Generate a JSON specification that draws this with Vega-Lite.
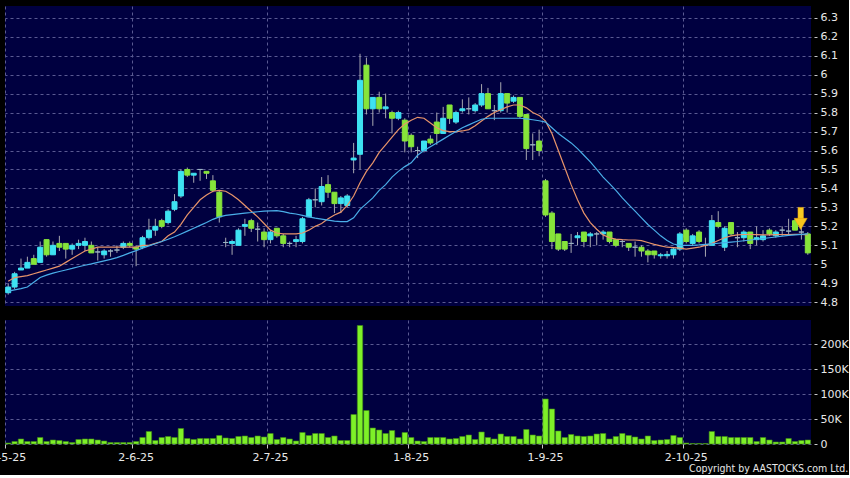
{
  "$schema": "https://vega.github.io/schema/vega-lite/v6.json",
  "background": "black",
  "padding": {"left": -11, "top": 6, "right": 0, "bottom": 0},
  "spacing": 12,
  "title": {"text": "Copyright by AASTOCKS.com Ltd.", "orient": "bottom", "anchor": "end", "fontSize": 10.5, "fontWeight": "normal", "font": "DejaVu Sans Condensed, DejaVu Sans", "color": "#e8e8e8", "offset": 2},
  "datasets": {
    "px": [
      {"d":"2025-05-02","o":4.85,"h":4.90,"l":4.84,"c":4.88,"v":2000,"ma10":4.91,"ma20":4.858},
      {"d":"2025-05-06","o":4.88,"h":4.96,"l":4.87,"c":4.95,"v":5000,"ma10":4.93,"ma20":4.865},
      {"d":"2025-05-07","o":4.97,"h":5.03,"l":4.97,"c":4.98,"v":10000,"ma10":4.935,"ma20":4.872},
      {"d":"2025-05-08","o":4.98,"h":5.04,"l":4.98,"c":5.01,"v":5000,"ma10":4.94,"ma20":4.88},
      {"d":"2025-05-09","o":5.03,"h":5.05,"l":5.00,"c":5.00,"v":5000,"ma10":4.95,"ma20":4.905},
      {"d":"2025-05-12","o":5.01,"h":5.12,"l":5.01,"c":5.09,"v":13000,"ma10":4.96,"ma20":4.93},
      {"d":"2025-05-13","o":5.13,"h":5.13,"l":5.04,"c":5.05,"v":5000,"ma10":4.97,"ma20":4.943},
      {"d":"2025-05-14","o":5.05,"h":5.12,"l":5.05,"c":5.10,"v":8000,"ma10":4.98,"ma20":4.953},
      {"d":"2025-05-15","o":5.11,"h":5.15,"l":5.07,"c":5.09,"v":7000,"ma10":4.99,"ma20":4.962},
      {"d":"2025-05-16","o":5.11,"h":5.11,"l":5.03,"c":5.08,"v":5000,"ma10":5.01,"ma20":4.97},
      {"d":"2025-05-19","o":5.08,"h":5.11,"l":5.05,"c":5.10,"v":3000,"ma10":5.03,"ma20":4.978},
      {"d":"2025-05-20","o":5.10,"h":5.13,"l":5.08,"c":5.11,"v":9000,"ma10":5.05,"ma20":4.987},
      {"d":"2025-05-21","o":5.10,"h":5.14,"l":5.07,"c":5.12,"v":10000,"ma10":5.07,"ma20":4.995},
      {"d":"2025-05-22","o":5.10,"h":5.12,"l":5.06,"c":5.06,"v":10000,"ma10":5.08,"ma20":5.002},
      {"d":"2025-05-23","o":5.065,"h":5.09,"l":5.02,"c":5.065,"v":8000,"ma10":5.09,"ma20":5.01},
      {"d":"2025-05-26","o":5.05,"h":5.08,"l":5.03,"c":5.07,"v":6000,"ma10":5.09,"ma20":5.018},
      {"d":"2025-05-27","o":5.07,"h":5.08,"l":5.04,"c":5.07,"v":3000,"ma10":5.09,"ma20":5.026},
      {"d":"2025-05-28","o":5.075,"h":5.10,"l":5.06,"c":5.075,"v":3000,"ma10":5.09,"ma20":5.035},
      {"d":"2025-05-29","o":5.09,"h":5.12,"l":5.08,"c":5.11,"v":3000,"ma10":5.09,"ma20":5.047},
      {"d":"2025-05-30","o":5.11,"h":5.12,"l":5.09,"c":5.10,"v":3000,"ma10":5.09,"ma20":5.06},
      {"d":"2025-06-02","o":5.09,"h":5.10,"l":4.99,"c":5.08,"v":5000,"ma10":5.09,"ma20":5.072},
      {"d":"2025-06-03","o":5.09,"h":5.15,"l":5.08,"c":5.14,"v":13000,"ma10":5.10,"ma20":5.085},
      {"d":"2025-06-04","o":5.14,"h":5.24,"l":5.13,"c":5.18,"v":25000,"ma10":5.10,"ma20":5.097},
      {"d":"2025-06-05","o":5.18,"h":5.24,"l":5.15,"c":5.20,"v":7000,"ma10":5.11,"ma20":5.108},
      {"d":"2025-06-06","o":5.23,"h":5.24,"l":5.19,"c":5.20,"v":13000,"ma10":5.12,"ma20":5.12},
      {"d":"2025-06-09","o":5.22,"h":5.29,"l":5.21,"c":5.28,"v":15000,"ma10":5.15,"ma20":5.132},
      {"d":"2025-06-10","o":5.29,"h":5.37,"l":5.28,"c":5.33,"v":13000,"ma10":5.17,"ma20":5.145},
      {"d":"2025-06-11","o":5.36,"h":5.50,"l":5.35,"c":5.49,"v":31000,"ma10":5.21,"ma20":5.16},
      {"d":"2025-06-12","o":5.50,"h":5.51,"l":5.46,"c":5.47,"v":11000,"ma10":5.26,"ma20":5.175},
      {"d":"2025-06-13","o":5.47,"h":5.48,"l":5.43,"c":5.48,"v":9000,"ma10":5.30,"ma20":5.19},
      {"d":"2025-06-16","o":5.50,"h":5.50,"l":5.44,"c":5.50,"v":11000,"ma10":5.34,"ma20":5.205},
      {"d":"2025-06-17","o":5.49,"h":5.49,"l":5.45,"c":5.48,"v":11000,"ma10":5.365,"ma20":5.22},
      {"d":"2025-06-18","o":5.44,"h":5.47,"l":5.38,"c":5.39,"v":11000,"ma10":5.385,"ma20":5.237},
      {"d":"2025-06-19","o":5.38,"h":5.39,"l":5.22,"c":5.25,"v":17000,"ma10":5.39,"ma20":5.25},
      {"d":"2025-06-20","o":5.115,"h":5.14,"l":5.09,"c":5.115,"v":12000,"ma10":5.385,"ma20":5.258},
      {"d":"2025-06-23","o":5.11,"h":5.13,"l":5.05,"c":5.12,"v":11000,"ma10":5.365,"ma20":5.262},
      {"d":"2025-06-24","o":5.10,"h":5.19,"l":5.10,"c":5.18,"v":15000,"ma10":5.34,"ma20":5.266},
      {"d":"2025-06-25","o":5.20,"h":5.24,"l":5.15,"c":5.21,"v":16000,"ma10":5.31,"ma20":5.27},
      {"d":"2025-06-26","o":5.23,"h":5.24,"l":5.17,"c":5.19,"v":13000,"ma10":5.28,"ma20":5.273},
      {"d":"2025-06-27","o":5.185,"h":5.22,"l":5.12,"c":5.185,"v":16000,"ma10":5.25,"ma20":5.277},
      {"d":"2025-06-30","o":5.17,"h":5.19,"l":5.09,"c":5.13,"v":14000,"ma10":5.215,"ma20":5.28},
      {"d":"2025-07-02","o":5.13,"h":5.18,"l":5.11,"c":5.17,"v":21000,"ma10":5.18,"ma20":5.282},
      {"d":"2025-07-03","o":5.19,"h":5.19,"l":5.14,"c":5.15,"v":9000,"ma10":5.165,"ma20":5.283},
      {"d":"2025-07-04","o":5.15,"h":5.16,"l":5.09,"c":5.11,"v":13000,"ma10":5.16,"ma20":5.278},
      {"d":"2025-07-07","o":5.11,"h":5.12,"l":5.09,"c":5.11,"v":10000,"ma10":5.16,"ma20":5.27},
      {"d":"2025-07-08","o":5.12,"h":5.15,"l":5.09,"c":5.13,"v":6000,"ma10":5.16,"ma20":5.265},
      {"d":"2025-07-09","o":5.12,"h":5.25,"l":5.11,"c":5.24,"v":23000,"ma10":5.165,"ma20":5.258},
      {"d":"2025-07-10","o":5.25,"h":5.35,"l":5.25,"c":5.34,"v":17000,"ma10":5.18,"ma20":5.25},
      {"d":"2025-07-11","o":5.34,"h":5.40,"l":5.30,"c":5.34,"v":21000,"ma10":5.20,"ma20":5.243},
      {"d":"2025-07-14","o":5.33,"h":5.46,"l":5.31,"c":5.41,"v":21000,"ma10":5.215,"ma20":5.238},
      {"d":"2025-07-15","o":5.42,"h":5.47,"l":5.35,"c":5.38,"v":13000,"ma10":5.24,"ma20":5.233},
      {"d":"2025-07-16","o":5.38,"h":5.38,"l":5.27,"c":5.32,"v":16000,"ma10":5.26,"ma20":5.228},
      {"d":"2025-07-17","o":5.32,"h":5.36,"l":5.27,"c":5.35,"v":7000,"ma10":5.275,"ma20":5.225},
      {"d":"2025-07-18","o":5.31,"h":5.37,"l":5.30,"c":5.36,"v":7000,"ma10":5.31,"ma20":5.225},
      {"d":"2025-07-21","o":5.55,"h":5.64,"l":5.48,"c":5.56,"v":59000,"ma10":5.36,"ma20":5.245},
      {"d":"2025-07-22","o":5.58,"h":6.11,"l":5.50,"c":5.97,"v":237000,"ma10":5.43,"ma20":5.29},
      {"d":"2025-07-23","o":6.05,"h":6.09,"l":5.79,"c":5.82,"v":67000,"ma10":5.49,"ma20":5.32},
      {"d":"2025-07-24","o":5.82,"h":5.88,"l":5.73,"c":5.88,"v":32000,"ma10":5.535,"ma20":5.35},
      {"d":"2025-07-25","o":5.88,"h":5.91,"l":5.80,"c":5.82,"v":28000,"ma10":5.59,"ma20":5.39},
      {"d":"2025-07-28","o":5.82,"h":5.90,"l":5.77,"c":5.83,"v":21000,"ma10":5.63,"ma20":5.42},
      {"d":"2025-07-29","o":5.80,"h":5.81,"l":5.69,"c":5.77,"v":27000,"ma10":5.67,"ma20":5.46},
      {"d":"2025-07-30","o":5.77,"h":5.81,"l":5.76,"c":5.80,"v":13000,"ma10":5.71,"ma20":5.49},
      {"d":"2025-07-31","o":5.76,"h":5.77,"l":5.59,"c":5.65,"v":23000,"ma10":5.74,"ma20":5.515},
      {"d":"2025-08-01","o":5.68,"h":5.69,"l":5.59,"c":5.62,"v":13000,"ma10":5.76,"ma20":5.535},
      {"d":"2025-08-04","o":5.60,"h":5.62,"l":5.56,"c":5.60,"v":6000,"ma10":5.775,"ma20":5.575},
      {"d":"2025-08-05","o":5.60,"h":5.65,"l":5.59,"c":5.65,"v":5000,"ma10":5.77,"ma20":5.60},
      {"d":"2025-08-06","o":5.66,"h":5.68,"l":5.63,"c":5.64,"v":13000,"ma10":5.745,"ma20":5.62},
      {"d":"2025-08-07","o":5.75,"h":5.80,"l":5.63,"c":5.69,"v":13000,"ma10":5.72,"ma20":5.64},
      {"d":"2025-08-08","o":5.69,"h":5.83,"l":5.69,"c":5.77,"v":13000,"ma10":5.705,"ma20":5.66},
      {"d":"2025-08-11","o":5.84,"h":5.84,"l":5.74,"c":5.77,"v":10000,"ma10":5.70,"ma20":5.68},
      {"d":"2025-08-12","o":5.75,"h":5.81,"l":5.74,"c":5.80,"v":11000,"ma10":5.70,"ma20":5.70},
      {"d":"2025-08-13","o":5.81,"h":5.87,"l":5.80,"c":5.82,"v":15000,"ma10":5.703,"ma20":5.72},
      {"d":"2025-08-14","o":5.82,"h":5.88,"l":5.79,"c":5.82,"v":18000,"ma10":5.71,"ma20":5.735},
      {"d":"2025-08-15","o":5.81,"h":5.85,"l":5.80,"c":5.84,"v":9000,"ma10":5.73,"ma20":5.75},
      {"d":"2025-08-18","o":5.84,"h":5.95,"l":5.83,"c":5.90,"v":24000,"ma10":5.755,"ma20":5.765},
      {"d":"2025-08-19","o":5.90,"h":5.93,"l":5.82,"c":5.82,"v":13000,"ma10":5.78,"ma20":5.77},
      {"d":"2025-08-20","o":5.81,"h":5.84,"l":5.76,"c":5.81,"v":10000,"ma10":5.80,"ma20":5.77},
      {"d":"2025-08-21","o":5.81,"h":5.96,"l":5.80,"c":5.90,"v":20000,"ma10":5.815,"ma20":5.77},
      {"d":"2025-08-22","o":5.90,"h":5.90,"l":5.80,"c":5.85,"v":15000,"ma10":5.83,"ma20":5.77},
      {"d":"2025-08-25","o":5.86,"h":5.89,"l":5.85,"c":5.88,"v":15000,"ma10":5.84,"ma20":5.77},
      {"d":"2025-08-26","o":5.88,"h":5.88,"l":5.77,"c":5.78,"v":10000,"ma10":5.84,"ma20":5.77},
      {"d":"2025-08-27","o":5.79,"h":5.79,"l":5.55,"c":5.61,"v":29000,"ma10":5.825,"ma20":5.767},
      {"d":"2025-08-28","o":5.63,"h":5.69,"l":5.55,"c":5.63,"v":18000,"ma10":5.80,"ma20":5.762},
      {"d":"2025-08-29","o":5.65,"h":5.71,"l":5.57,"c":5.60,"v":16000,"ma10":5.785,"ma20":5.757},
      {"d":"2025-09-01","o":5.44,"h":5.45,"l":5.25,"c":5.26,"v":90000,"ma10":5.755,"ma20":5.75},
      {"d":"2025-09-02","o":5.27,"h":5.28,"l":5.08,"c":5.12,"v":70000,"ma10":5.69,"ma20":5.72},
      {"d":"2025-09-03","o":5.16,"h":5.16,"l":5.07,"c":5.08,"v":26000,"ma10":5.60,"ma20":5.69},
      {"d":"2025-09-04","o":5.12,"h":5.12,"l":5.07,"c":5.08,"v":13000,"ma10":5.51,"ma20":5.665},
      {"d":"2025-09-05","o":5.11,"h":5.16,"l":5.06,"c":5.11,"v":19000,"ma10":5.42,"ma20":5.64},
      {"d":"2025-09-08","o":5.14,"h":5.17,"l":5.10,"c":5.15,"v":16000,"ma10":5.34,"ma20":5.61},
      {"d":"2025-09-09","o":5.17,"h":5.17,"l":5.09,"c":5.12,"v":15000,"ma10":5.27,"ma20":5.575},
      {"d":"2025-09-10","o":5.15,"h":5.17,"l":5.09,"c":5.16,"v":16000,"ma10":5.22,"ma20":5.54},
      {"d":"2025-09-11","o":5.16,"h":5.17,"l":5.10,"c":5.16,"v":20000,"ma10":5.185,"ma20":5.50},
      {"d":"2025-09-12","o":5.16,"h":5.18,"l":5.13,"c":5.17,"v":21000,"ma10":5.155,"ma20":5.46},
      {"d":"2025-09-15","o":5.17,"h":5.17,"l":5.11,"c":5.12,"v":10000,"ma10":5.14,"ma20":5.425},
      {"d":"2025-09-16","o":5.13,"h":5.13,"l":5.09,"c":5.10,"v":15000,"ma10":5.133,"ma20":5.39},
      {"d":"2025-09-17","o":5.12,"h":5.13,"l":5.09,"c":5.12,"v":21000,"ma10":5.13,"ma20":5.35},
      {"d":"2025-09-18","o":5.11,"h":5.11,"l":5.07,"c":5.09,"v":17000,"ma10":5.128,"ma20":5.315},
      {"d":"2025-09-19","o":5.09,"h":5.12,"l":5.04,"c":5.09,"v":14000,"ma10":5.128,"ma20":5.28},
      {"d":"2025-09-22","o":5.09,"h":5.10,"l":5.04,"c":5.07,"v":10000,"ma10":5.125,"ma20":5.245},
      {"d":"2025-09-23","o":5.07,"h":5.08,"l":5.01,"c":5.05,"v":16000,"ma10":5.115,"ma20":5.21},
      {"d":"2025-09-24","o":5.07,"h":5.07,"l":5.03,"c":5.05,"v":7000,"ma10":5.105,"ma20":5.18},
      {"d":"2025-09-25","o":5.045,"h":5.06,"l":5.03,"c":5.05,"v":8000,"ma10":5.097,"ma20":5.15},
      {"d":"2025-09-26","o":5.045,"h":5.07,"l":5.03,"c":5.052,"v":9000,"ma10":5.09,"ma20":5.125},
      {"d":"2025-09-29","o":5.05,"h":5.09,"l":5.03,"c":5.08,"v":17000,"ma10":5.088,"ma20":5.107},
      {"d":"2025-09-30","o":5.08,"h":5.17,"l":5.07,"c":5.16,"v":13000,"ma10":5.085,"ma20":5.10},
      {"d":"2025-10-02","o":5.18,"h":5.19,"l":5.11,"c":5.12,"v":2000,"ma10":5.08,"ma20":5.10},
      {"d":"2025-10-03","o":5.11,"h":5.16,"l":5.10,"c":5.15,"v":1000,"ma10":5.085,"ma20":5.10},
      {"d":"2025-10-06","o":5.17,"h":5.18,"l":5.11,"c":5.12,"v":1000,"ma10":5.09,"ma20":5.102},
      {"d":"2025-10-08","o":5.10,"h":5.14,"l":5.04,"c":5.10,"v":1000,"ma10":5.10,"ma20":5.105},
      {"d":"2025-10-09","o":5.10,"h":5.26,"l":5.10,"c":5.23,"v":25000,"ma10":5.11,"ma20":5.108},
      {"d":"2025-10-10","o":5.22,"h":5.28,"l":5.19,"c":5.20,"v":15000,"ma10":5.125,"ma20":5.111},
      {"d":"2025-10-13","o":5.09,"h":5.20,"l":5.07,"c":5.19,"v":15000,"ma10":5.14,"ma20":5.114},
      {"d":"2025-10-14","o":5.22,"h":5.22,"l":5.15,"c":5.16,"v":13000,"ma10":5.15,"ma20":5.117},
      {"d":"2025-10-15","o":5.14,"h":5.17,"l":5.09,"c":5.14,"v":13000,"ma10":5.155,"ma20":5.12},
      {"d":"2025-10-16","o":5.14,"h":5.18,"l":5.12,"c":5.17,"v":13000,"ma10":5.157,"ma20":5.124},
      {"d":"2025-10-17","o":5.17,"h":5.17,"l":5.08,"c":5.11,"v":13000,"ma10":5.157,"ma20":5.128},
      {"d":"2025-10-20","o":5.13,"h":5.20,"l":5.10,"c":5.14,"v":5000,"ma10":5.156,"ma20":5.132},
      {"d":"2025-10-21","o":5.13,"h":5.18,"l":5.12,"c":5.15,"v":13000,"ma10":5.155,"ma20":5.136},
      {"d":"2025-10-22","o":5.18,"h":5.19,"l":5.15,"c":5.16,"v":8000,"ma10":5.155,"ma20":5.14},
      {"d":"2025-10-23","o":5.15,"h":5.18,"l":5.14,"c":5.17,"v":4000,"ma10":5.156,"ma20":5.144},
      {"d":"2025-10-24","o":5.18,"h":5.20,"l":5.15,"c":5.18,"v":4000,"ma10":5.157,"ma20":5.148},
      {"d":"2025-10-27","o":5.175,"h":5.24,"l":5.15,"c":5.175,"v":11000,"ma10":5.157,"ma20":5.152},
      {"d":"2025-10-28","o":5.23,"h":5.24,"l":5.18,"c":5.18,"v":5000,"ma10":5.158,"ma20":5.155},
      {"d":"2025-10-30","o":5.17,"h":5.20,"l":5.13,"c":5.17,"v":7000,"ma10":5.158,"ma20":5.158},
      {"d":"2025-10-31","o":5.16,"h":5.17,"l":5.05,"c":5.06,"v":8000,"ma10":5.155,"ma20":5.16}
    ],
    "arrow": [
      {"d":"2025-10-30","top":5.30,"bot":5.235,"tip":5.2125}
    ]
  },
  "config": {
    "view": {"fill": "#000040", "stroke": null},
    "axis": {
      "labelColor": "#e8e8e8",
      "labelFont": "DejaVu Sans",
      "labelFontSize": 11,
      "labelOverlap": false,
      "tickColor": "#c8c8c8",
      "gridColor": "#5a5a92",
      "gridDash": [3, 3],
      "gridWidth": 1,
      "domain": false,
      "title": null
    }
  },
  "vconcat": [
    {
      "width": 806,
      "height": 300,
      "data": {"name": "px"},
      "encoding": {
        "x": {
          "field": "d", "type": "ordinal", "sort": null,
          "scale": {"paddingInner": 0, "paddingOuter": 0},
          "axis": {"values": ["2025-05-02","2025-06-02","2025-07-02","2025-08-01","2025-09-01","2025-10-02"], "bandPosition": 0, "labels": false, "ticks": false, "grid": true}
        }
      },
      "layer": [
        {
          "mark": {"type": "rule", "color": "#a8a8b0", "strokeWidth": 1},
          "encoding": {
            "y": {"field": "l", "type": "quantitative", "scale": {"domain": [4.78, 6.362], "nice": false, "zero": false},
              "axis": {"orient": "right", "values": [4.8,4.9,5.0,5.1,5.2,5.3,5.4,5.5,5.6,5.7,5.8,5.9,6.0,6.1,6.2,6.3], "labelExpr": "format(datum.value, '.1~f')", "offset": 3, "tickSize": 3, "labelPadding": 3, "grid": true}},
            "y2": {"field": "h"}
          }
        },
        {
          "mark": {"type": "bar", "size": 5, "strokeWidth": 1},
          "encoding": {
            "y": {"field": "o", "type": "quantitative",
              "axis": {"orient": "right", "values": [4.8,4.9,5.0,5.1,5.2,5.3,5.4,5.5,5.6,5.7,5.8,5.9,6.0,6.1,6.2,6.3], "labelExpr": "format(datum.value, '.1~f')", "offset": 3, "tickSize": 3, "labelPadding": 3, "grid": true}},
            "y2": {"field": "c"},
            "fill": {"condition": [{"test": "datum.c > datum.o", "value": "#3ee2f2"}, {"test": "datum.c < datum.o", "value": "#86e43a"}], "value": "#9ab4c4"},
            "stroke": {"condition": [{"test": "datum.c > datum.o", "value": "#3ee2f2"}, {"test": "datum.c < datum.o", "value": "#86e43a"}], "value": "#9ab4c4"}
          }
        },
        {
          "mark": {"type": "line", "color": "#e8946a", "strokeWidth": 1.2},
          "encoding": {"y": {"field": "ma10", "type": "quantitative",
            "axis": {"orient": "right", "values": [4.8,4.9,5.0,5.1,5.2,5.3,5.4,5.5,5.6,5.7,5.8,5.9,6.0,6.1,6.2,6.3], "labelExpr": "format(datum.value, '.1~f')", "offset": 3, "tickSize": 3, "labelPadding": 3, "grid": true}}}
        },
        {
          "mark": {"type": "line", "color": "#4aaee8", "strokeWidth": 1.2},
          "encoding": {"y": {"field": "ma20", "type": "quantitative",
            "axis": {"orient": "right", "values": [4.8,4.9,5.0,5.1,5.2,5.3,5.4,5.5,5.6,5.7,5.8,5.9,6.0,6.1,6.2,6.3], "labelExpr": "format(datum.value, '.1~f')", "offset": 3, "tickSize": 3, "labelPadding": 3, "grid": true}}}
        },
        {
          "data": {"name": "arrow"},
          "mark": {"type": "bar", "size": 5.5, "fill": "#f8cc22", "stroke": "#e8a010", "strokeWidth": 0.5},
          "encoding": {"y": {"field": "top", "type": "quantitative",
            "axis": {"orient": "right", "values": [4.8,4.9,5.0,5.1,5.2,5.3,5.4,5.5,5.6,5.7,5.8,5.9,6.0,6.1,6.2,6.3], "labelExpr": "format(datum.value, '.1~f')", "offset": 3, "tickSize": 3, "labelPadding": 3, "grid": true}}, "y2": {"field": "bot"}, "xOffset": {"value": 2.5}}
        },
        {
          "data": {"name": "arrow"},
          "mark": {"type": "point", "shape": "triangle-down", "filled": true, "size": 169, "fill": "#f8c41c", "stroke": "#e8a010", "strokeWidth": 0.5, "opacity": 1},
          "encoding": {"y": {"field": "tip", "type": "quantitative",
            "axis": {"orient": "right", "values": [4.8,4.9,5.0,5.1,5.2,5.3,5.4,5.5,5.6,5.7,5.8,5.9,6.0,6.1,6.2,6.3], "labelExpr": "format(datum.value, '.1~f')", "offset": 3, "tickSize": 3, "labelPadding": 3, "grid": true}}, "xOffset": {"value": 2.5}}
        }
      ]
    },
    {
      "width": 806,
      "height": 124,
      "data": {"name": "px"},
      "mark": {"type": "bar", "size": 5.4, "fill": "#7ef028", "stroke": "#3f8a14", "strokeWidth": 0.6},
      "encoding": {
        "x": {
          "field": "d", "type": "ordinal", "sort": null,
          "scale": {"paddingInner": 0, "paddingOuter": 0},
          "axis": {"values": ["2025-05-02","2025-06-02","2025-07-02","2025-08-01","2025-09-01","2025-10-02"], "bandPosition": 0, "labelExpr": "utcFormat(toDate(datum.value), '%-d-%-m-%y')", "labelAngle": 0, "tickSize": 4, "labelPadding": 3, "grid": true}
        },
        "y": {
          "field": "v", "type": "quantitative",
          "scale": {"domain": [0, 248000], "nice": false},
          "axis": {"orient": "right", "values": [0, 50000, 100000, 150000, 200000], "labelExpr": "datum.value == 0 ? '0' : (datum.value / 1000) + 'K'", "offset": 3, "tickSize": 3, "labelPadding": 3, "grid": true}
        }
      }
    }
  ]
}
